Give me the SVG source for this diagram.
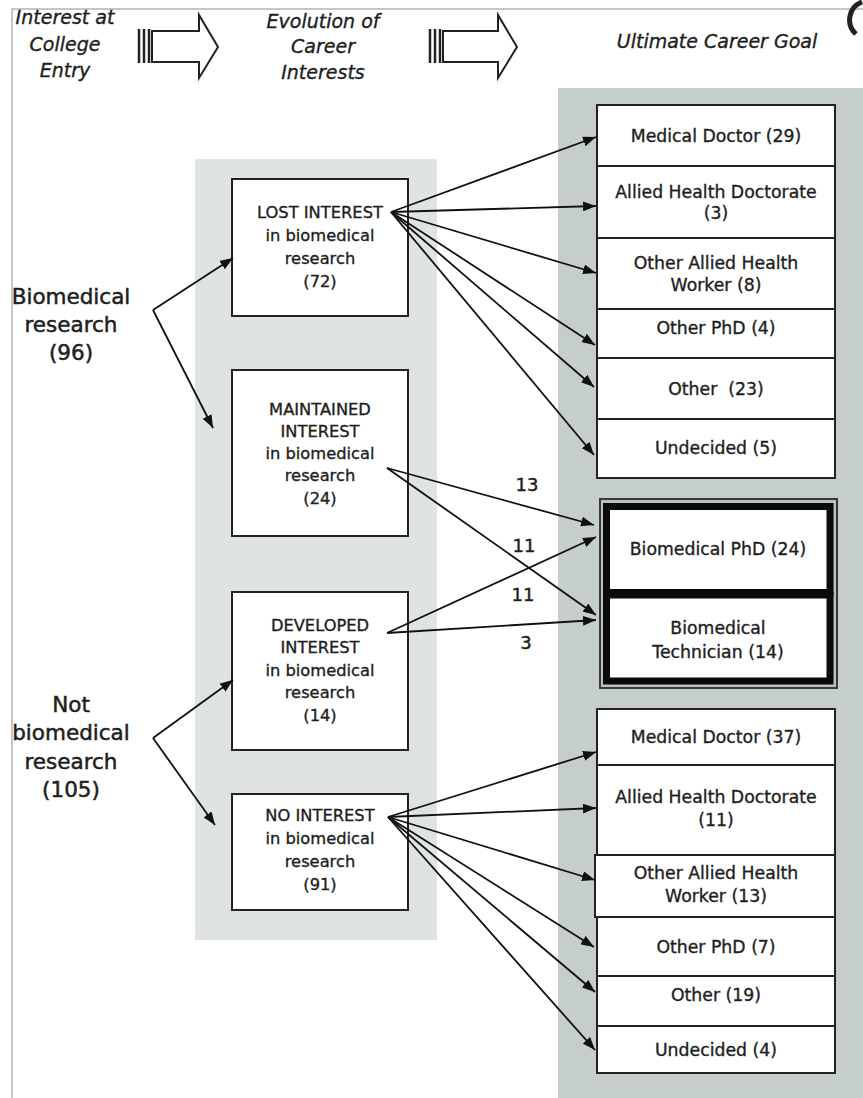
<svg xmlns="http://www.w3.org/2000/svg" width="863" height="1098" viewBox="0 0 863 1098">
<defs>
<marker id="ah" markerUnits="userSpaceOnUse" markerWidth="13" markerHeight="10" refX="13" refY="5" orient="auto">
<path d="M0,0 L13,5 L0,10 z" fill="#111"/>
</marker>
<style>
text{font-family:"DejaVu Sans","Liberation Sans",sans-serif;fill:#1e1e1e;stroke:#1e1e1e;stroke-width:0.35;text-anchor:middle}
.hd{font-style:italic;font-size:19px}
.lbl{font-size:21.5px;stroke-width:0.5}
.mid{font-size:16.3px}
.rt{font-size:17.3px}
.num{font-size:18px;stroke-width:0.45}
.box{fill:#fff;stroke:#222;stroke-width:2}
.bold{fill:#fff;stroke:#0a0a0a;stroke-width:7}
.conn line{stroke:#111;stroke-width:1.8;fill:none}
.harrow{fill:#fff;stroke:#222;stroke-width:2}
</style>
</defs>
<rect width="863" height="1098" fill="#fff"/>
<!-- frame -->
<path d="M12,1098 V9 H863" fill="none" stroke="#b4b4b4" stroke-width="1.5"/>
<path d="M862,2 A19,19 0 0 0 856,34" fill="none" stroke="#222" stroke-width="5"/>
<!-- panels -->
<rect x="195" y="159" width="242" height="781" fill="#dfe3e1"/>
<rect x="558" y="88" width="305" height="1010" fill="#c6cdcd"/>

<!-- header -->
<g id="header">
<text class="hd" x="65" y="24">Interest at</text>
<text class="hd" x="65" y="51">College</text>
<text class="hd" x="65" y="77">Entry</text>
<text class="hd" x="323" y="28">Evolution of</text>
<text class="hd" x="323" y="53">Career</text>
<text class="hd" x="323" y="79">Interests</text>
<text class="hd" x="717" y="48">Ultimate Career Goal</text>
<g id="harrow1">
<line x1="139" y1="29" x2="139" y2="63" stroke="#222" stroke-width="2.5"/>
<line x1="144" y1="29" x2="144" y2="63" stroke="#222" stroke-width="2.5"/>
<line x1="149" y1="29" x2="149" y2="63" stroke="#222" stroke-width="2.5"/>
<path class="harrow" d="M152,31 H199 V15 L218,47 L199,78 V62 H152 z"/>
</g>
<g id="harrow2">
<line x1="430" y1="29" x2="430" y2="63" stroke="#222" stroke-width="2.5"/>
<line x1="435" y1="29" x2="435" y2="63" stroke="#222" stroke-width="2.5"/>
<line x1="440" y1="29" x2="440" y2="63" stroke="#222" stroke-width="2.5"/>
<path class="harrow" d="M443,31 H498 V15 L517,47 L498,78 V62 H443 z"/>
</g>
</g>

<!-- left labels -->
<g id="n-bio">
<text class="lbl" x="71" y="304">Biomedical</text>
<text class="lbl" x="71" y="332">research</text>
<text class="lbl" x="71" y="360">(96)</text>
</g>
<g id="n-notbio">
<text class="lbl" x="71" y="712">Not</text>
<text class="lbl" x="71" y="740">biomedical</text>
<text class="lbl" x="71" y="769">research</text>
<text class="lbl" x="71" y="797">(105)</text>
</g>

<!-- middle boxes -->
<g id="n-lost">
<rect class="box" x="232" y="179" width="176" height="137"/>
<text class="mid" x="320" y="218">LOST INTEREST</text>
<text class="mid" x="320" y="241">in biomedical</text>
<text class="mid" x="320" y="264">research</text>
<text class="mid" x="320" y="287">(72)</text>
</g>
<g id="n-maintained">
<rect class="box" x="232" y="370" width="176" height="166"/>
<text class="mid" x="320" y="415">MAINTAINED</text>
<text class="mid" x="320" y="437">INTEREST</text>
<text class="mid" x="320" y="459">in biomedical</text>
<text class="mid" x="320" y="481">research</text>
<text class="mid" x="320" y="504">(24)</text>
</g>
<g id="n-developed">
<rect class="box" x="232" y="592" width="176" height="158"/>
<text class="mid" x="320" y="631">DEVELOPED</text>
<text class="mid" x="320" y="653">INTEREST</text>
<text class="mid" x="320" y="676">in biomedical</text>
<text class="mid" x="320" y="698">research</text>
<text class="mid" x="320" y="721">(14)</text>
</g>
<g id="n-nointerest">
<rect class="box" x="232" y="794" width="176" height="116"/>
<text class="mid" x="320" y="821">NO INTEREST</text>
<text class="mid" x="320" y="844">in biomedical</text>
<text class="mid" x="320" y="867">research</text>
<text class="mid" x="320" y="890">(91)</text>
</g>

<!-- right top group -->
<g id="n-md29"><rect class="box" x="597" y="105" width="238" height="61"/><text class="rt" x="716" y="142">Medical Doctor (29)</text></g>
<g id="n-ahd3"><rect class="box" x="597" y="166" width="238" height="72"/><text class="rt" x="716" y="198">Allied Health Doctorate</text><text class="rt" x="716" y="219">(3)</text></g>
<g id="n-oah8"><rect class="box" x="597" y="238" width="238" height="71"/><text class="rt" x="716" y="269">Other Allied Health</text><text class="rt" x="716" y="291">Worker (8)</text></g>
<g id="n-ophd4"><rect class="box" x="597" y="309" width="238" height="49"/><text class="rt" x="716" y="334">Other PhD (4)</text></g>
<g id="n-other23"><rect class="box" x="597" y="358" width="238" height="61"/><text class="rt" x="716" y="395" style="white-space:pre">Other  (23)</text></g>
<g id="n-und5"><rect class="box" x="597" y="419" width="238" height="59"/><text class="rt" x="716" y="454">Undecided (5)</text></g>

<!-- bold group -->
<g id="n-biogroup">
<rect x="600" y="499" width="237" height="189" fill="#b9c0c0" stroke="#3a3a3a" stroke-width="2"/>
<g id="n-biophd"><rect class="bold" x="606.5" y="506.5" width="223.5" height="86"/><text class="rt" x="718" y="555">Biomedical PhD (24)</text></g>
<g id="n-biotech"><rect class="bold" x="606.5" y="595" width="223.5" height="86"/><text class="rt" x="718" y="634">Biomedical</text><text class="rt" x="718" y="658">Technician (14)</text></g>
</g>

<!-- right bottom group -->
<g id="n-md37"><rect class="box" x="597" y="709" width="238" height="56"/><text class="rt" x="716" y="743">Medical Doctor (37)</text></g>
<g id="n-ahd11"><rect class="box" x="597" y="765" width="238" height="90"/><text class="rt" x="716" y="803">Allied Health Doctorate</text><text class="rt" x="716" y="826">(11)</text></g>
<g id="n-oah13"><rect class="box" x="595" y="855" width="240" height="62"/><text class="rt" x="716" y="879">Other Allied Health</text><text class="rt" x="716" y="902">Worker (13)</text></g>
<g id="n-ophd7"><rect class="box" x="597" y="917" width="238" height="59"/><text class="rt" x="716" y="953">Other PhD (7)</text></g>
<g id="n-other19"><rect class="box" x="597" y="976" width="238" height="50"/><text class="rt" x="716" y="1001">Other (19)</text></g>
<g id="n-und4"><rect class="box" x="597" y="1026" width="238" height="47"/><text class="rt" x="716" y="1056">Undecided (4)</text></g>

<!-- connectors -->
<g id="connectors" class="conn">
<line x1="153" y1="310" x2="233" y2="258" marker-end="url(#ah)"/>
<line x1="153" y1="310" x2="213" y2="428" marker-end="url(#ah)"/>
<line x1="153" y1="738" x2="233" y2="680" marker-end="url(#ah)"/>
<line x1="153" y1="738" x2="215" y2="825" marker-end="url(#ah)"/>

<line x1="391" y1="212" x2="596" y2="137" marker-end="url(#ah)"/>
<line x1="391" y1="212" x2="596" y2="206" marker-end="url(#ah)"/>
<line x1="391" y1="212" x2="596" y2="273" marker-end="url(#ah)"/>
<line x1="391" y1="212" x2="595" y2="345" marker-end="url(#ah)"/>
<line x1="391" y1="212" x2="594" y2="387" marker-end="url(#ah)"/>
<line x1="391" y1="212" x2="594" y2="455" marker-end="url(#ah)"/>

<line x1="387" y1="468" x2="594" y2="525" marker-end="url(#ah)"/>
<line x1="387" y1="468" x2="596" y2="615" marker-end="url(#ah)"/>
<line x1="387" y1="633" x2="596" y2="537" marker-end="url(#ah)"/>
<line x1="387" y1="633" x2="596" y2="620" marker-end="url(#ah)"/>

<line x1="388" y1="817" x2="596" y2="752" marker-end="url(#ah)"/>
<line x1="388" y1="817" x2="596" y2="808" marker-end="url(#ah)"/>
<line x1="388" y1="817" x2="595" y2="880" marker-end="url(#ah)"/>
<line x1="388" y1="817" x2="594" y2="947" marker-end="url(#ah)"/>
<line x1="388" y1="817" x2="595" y2="992" marker-end="url(#ah)"/>
<line x1="388" y1="817" x2="595" y2="1050" marker-end="url(#ah)"/>
</g>
<g id="edge-labels">
<text class="num" x="527" y="491">13</text>
<text class="num" x="524" y="552">11</text>
<text class="num" x="523" y="601">11</text>
<text class="num" x="526" y="649">3</text>
</g>
</svg>
